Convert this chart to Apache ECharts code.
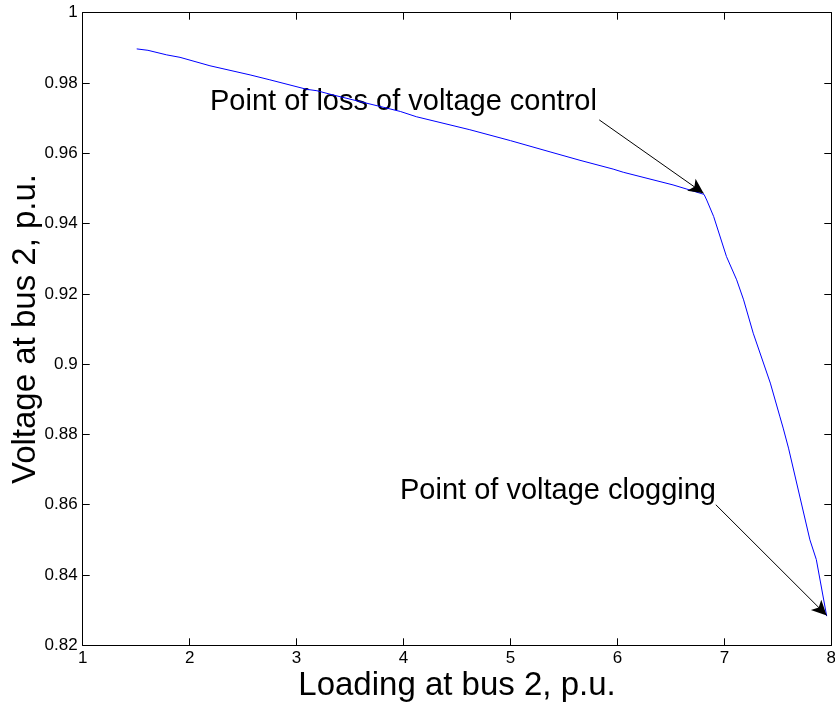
<!DOCTYPE html>
<html>
<head>
<meta charset="utf-8">
<script src="https://cdn.jsdelivr.net/npm/echarts@6/dist/echarts.min.js"></script>
<style>
html,body{margin:0;padding:0;background:#fff;}
#chart{width:835px;height:709px;}
</style>
</head>
<body>
<div id="chart"></div>
<script>
// Data
const loading = [1.505, 1.61, 1.785, 1.91, 2.19, 2.565, 2.75, 3.095, 3.19, 3.34, 3.81, 3.97, 4.12, 4.62, 5.0, 5.37, 5.65, 5.96, 6.055, 6.52, 6.65, 6.81, 6.835, 6.90, 7.02, 7.115, 7.18, 7.27, 7.43, 7.52, 7.55, 7.6, 7.8, 7.86, 7.957];
const voltage = [0.9897, 0.9893, 0.9880, 0.9873, 0.9849, 0.9823, 0.9809, 0.9782, 0.9778, 0.9766, 0.9731, 0.9719, 0.9704, 0.9667, 0.9636, 0.9604, 0.9580, 0.9555, 0.9546, 0.9510, 0.9498, 0.9483, 0.9467, 0.9420, 0.9306, 0.9240, 0.9183, 0.9088, 0.8946, 0.8850, 0.8818, 0.8761, 0.8500, 0.8444, 0.8283];
const xTicks = [1, 2, 3, 4, 5, 6, 7, 8];
const yTicks = [0.82, 0.84, 0.86, 0.88, 0.9, 0.92, 0.94, 0.96, 0.98, 1];
const annotationTexts = ['Point of loss of voltage control', 'Point of voltage clogging'];
const arrow1 = [[5.83, 0.9695], [6.806, 0.9486]];
const arrow2 = [[6.92, 0.860], [7.957, 0.8285]];

const FONT = "'Liberation Sans', Arial, Helvetica, sans-serif";
const seriesData = loading.map((x, i) => [x, voltage[i]]);
const fmtY = v => parseFloat(v.toFixed(2)).toString();

const chart = echarts.init(document.getElementById('chart'), null, {renderer: 'canvas'});

const axisCommon = {
  axisLine: {show: true, onZero: false, lineStyle: {color: '#000', width: 1}},
  axisTick: {show: true, inside: true, length: 7, lineStyle: {color: '#000', width: 1}},
  splitLine: {show: false}
};

chart.setOption({
  animation: false,
  backgroundColor: '#fff',
  grid: {left: 82.7, top: 12.7, right: 3.7, bottom: 63.7, containLabel: false, outerBoundsMode: 'none'},
  xAxis: [
    Object.assign({}, axisCommon, {
      type: 'value', position: 'bottom', min: xTicks[0], max: xTicks[xTicks.length - 1], interval: 1,
      axisLabel: {show: true, margin: 5, color: '#000', fontSize: 17, fontFamily: FONT},
      name: 'Loading at bus 2, p.u.', nameLocation: 'middle', nameGap: 24, nameMoveOverlap: false,
      nameTextStyle: {color: '#000', fontSize: 33, fontFamily: FONT}
    }),
    Object.assign({}, axisCommon, {
      type: 'value', position: 'top', min: xTicks[0], max: xTicks[xTicks.length - 1], interval: 1,
      axisLabel: {show: false}
    })
  ],
  yAxis: [
    Object.assign({}, axisCommon, {
      type: 'value', position: 'left', min: yTicks[0], max: yTicks[yTicks.length - 1], interval: 0.02,
      axisLabel: {show: true, margin: 5, color: '#000', fontSize: 17, fontFamily: FONT, formatter: fmtY},
      name: 'Voltage at bus 2, p.u.', nameLocation: 'middle', nameGap: 40, nameRotate: 90, nameMoveOverlap: false,
      nameTextStyle: {color: '#000', fontSize: 33, fontFamily: FONT}
    }),
    Object.assign({}, axisCommon, {
      type: 'value', position: 'right', min: yTicks[0], max: yTicks[yTicks.length - 1], interval: 0.02,
      axisLabel: {show: false}
    })
  ],
  series: [{
    type: 'line',
    data: seriesData,
    showSymbol: false,
    symbol: 'none',
    smooth: false,
    lineStyle: {color: '#0000ff', width: 1},
    silent: true,
    markLine: {
      silent: true,
      symbol: ['none', 'arrow'],
      symbolSize: [11, 15],
      label: {show: false},
      lineStyle: {color: '#000', width: 1, type: 'solid'},
      itemStyle: {color: '#000'},
      data: [
        [{coord: arrow1[0]}, {coord: arrow1[1]}],
        [{coord: arrow2[0]}, {coord: arrow2[1]}]
      ]
    }
  }],
  graphic: [
    {type: 'text', left: 210, top: 87, silent: true,
     style: {text: annotationTexts[0], fill: '#000', font: '29px ' + FONT}},
    {type: 'text', left: 400, top: 476, silent: true,
     style: {text: annotationTexts[1], fill: '#000', font: '29px ' + FONT}}
  ]
});
</script>
</body>
</html>
